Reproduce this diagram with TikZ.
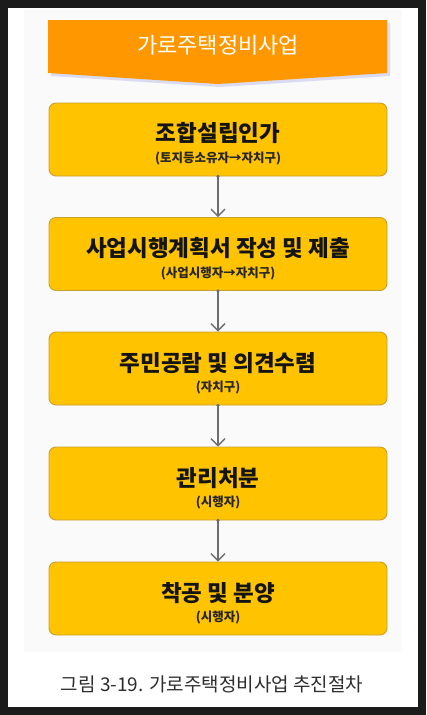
\documentclass[tikz,border=0pt]{standalone}
\usepackage{fontspec}
\newfontfamily\kr{Noto Sans CJK KR}
\usetikzlibrary{arrows.meta,shadows}
\definecolor{frame}{HTML}{1B1B1B}
\definecolor{boxfill}{HTML}{FFC300}
\definecolor{boxline}{HTML}{C9A030}
\definecolor{banner}{HTML}{FF9800}
\definecolor{arrowc}{HTML}{6E6E70}
\definecolor{captc}{HTML}{2E2E2E}
\tikzset{
  stepbox/.style={draw=boxline, line width=0.9pt, fill=boxfill, rounded corners=7pt,
    minimum width=338pt, minimum height=73pt, inner sep=0pt},
  maintext/.style={font=\kr\bfseries\fontsize{22.5}{26}\selectfont, text=black!92, inner sep=0pt},
  subtext/.style={font=\kr\bfseries\fontsize{12.5}{14}\selectfont, text=black!85, inner sep=0pt},
  flow/.style={draw=arrowc, line width=1.3pt, {Circle[length=3pt]}-{Straight Barb[length=7pt,width=14pt]}, shorten <=-1.5pt},
}
\begin{document}
\begin{tikzpicture}[x=1pt,y=-1pt]
\useasboundingbox (0,0) rectangle (426,715);
\fill[frame] (0,0) rectangle (426,715);
\fill[white] (8,8) rectangle (418,707);
\fill[black!2] (24,10) rectangle (402,652);
% banner
\fill[gray!50!blue!30, opacity=0.6] (51,23) -- (390,23) -- (390,76) -- (220,87) -- (51,76) -- cycle;
\fill[banner] (48,20) -- (387,20) -- (387,73) -- (218,84) -- (48,73) -- cycle;
\node[font=\kr\fontsize{22}{26}\selectfont, text=white, inner sep=0pt] (title) at (218,45) {가로주택정비사업};
% boxes
\node[stepbox] (b1) at (218,139.5) {};
\node[stepbox] (b2) at (218,254) {};
\node[stepbox] (b3) at (218,368.5) {};
\node[stepbox] (b4) at (218,483.5) {};
\node[stepbox] (b5) at (218,598.5) {};
\node[maintext] (m1) at (218,133) {조합설립인가};
\node[subtext] (s1) at (218,158.5) {(토지등소유자→자치구)};
\node[maintext] (m2) at (218,248.5) {사업시행계획서 작성 및 제출};
\node[subtext] (s2) at (218,273) {(사업시행자→자치구)};
\node[maintext] (m3) at (218,363) {주민공람 및 의견수렴};
\node[subtext] (s3) at (218,387.5) {(자치구)};
\node[maintext] (m4) at (218,478) {관리처분};
\node[subtext] (s4) at (218,502.5) {(시행자)};
\node[maintext] (m5) at (218,593) {착공 및 분양};
\node[subtext] (s5) at (218,617.5) {(시행자)};
% arrows
\draw[flow] (b1.south) -- (b2.north);
\draw[flow] (b2.south) -- (b3.north);
\draw[flow] (b3.south) -- (b4.north);
\draw[flow] (b4.south) -- (b5.north);
% caption
\node[font=\kr\fontsize{19}{22}\selectfont, text=captc, inner sep=0pt] (cap) at (212,684) {그림 3-19. 가로주택정비사업 추진절차};
\end{tikzpicture}
\end{document}
